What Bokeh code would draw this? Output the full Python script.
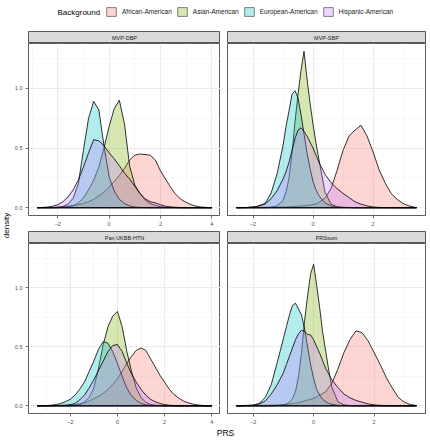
import math
from bokeh.plotting import figure
from bokeh.layouts import row, column
from bokeh.models import Range1d, FixedTicker, PrintfTickFormatter, Label, Legend, LegendItem
from bokeh.embed import file_html
from bokeh.resources import INLINE

FONT = "Liberation Sans"

groups = ["African-American", "Asian-American", "European-American", "Hispanic-American"]
colors = ["#F8766D", "#7CAE00", "#00BFC4", "#C77CFF"]
panel_names = ["MVP-DBP", "MVP-SBP", "Pan UKBB-HTN", "PRSsum"]
x_ticks = [-2, 0, 2, 4]
x_minor = [-3, -1, 1, 3]
y_ticks = [0.0, 0.5, 1.0]
y_minor = [0.25, 0.75, 1.25]

# ---- MVP-DBP ----
dbp_x = [-2.8, -2.6, -2.4, -2.2, -2.0, -1.8, -1.6, -1.4, -1.2, -1.0, -0.8, -0.6, -0.4, -0.2, 0.0,
         0.2, 0.4, 0.6, 0.8, 1.0, 1.2, 1.4, 1.6, 1.8, 2.0, 2.2, 2.4, 2.6, 2.8, 3.0, 3.2, 3.4, 3.6, 3.8, 4.0]
dbp_african = [0.0, 0.001, 0.002, 0.003, 0.005, 0.008, 0.012, 0.018, 0.025, 0.035, 0.05, 0.07, 0.10, 0.13, 0.17,
               0.22, 0.27, 0.33, 0.40, 0.44, 0.45, 0.445, 0.44, 0.40, 0.31, 0.24, 0.17, 0.11, 0.07, 0.045, 0.025, 0.012, 0.005, 0.002, 0.0]
dbp_asian = [0, 0, 0, 0, 0, 0.002, 0.006, 0.015, 0.04, 0.08, 0.15, 0.23, 0.34, 0.50, 0.68,
             0.83, 0.90, 0.70, 0.35, 0.19, 0.12, 0.065, 0.035, 0.018, 0.008, 0.004, 0.002, 0.001, 0, 0, 0, 0, 0, 0, 0]
dbp_european = [0, 0, 0, 0, 0.003, 0.01, 0.03, 0.08, 0.20, 0.48, 0.75, 0.89, 0.82, 0.52, 0.26,
                0.14, 0.07, 0.035, 0.015, 0.006, 0.002, 0.001, 0, 0, 0, 0, 0, 0, 0, 0, 0, 0, 0, 0, 0]
dbp_hispanic = [0.0, 0.002, 0.005, 0.012, 0.025, 0.05, 0.09, 0.15, 0.23, 0.34, 0.46, 0.57, 0.56, 0.52, 0.46,
                0.41, 0.35, 0.29, 0.24, 0.18, 0.12, 0.075, 0.05, 0.04, 0.025, 0.012, 0.006, 0.003, 0.001, 0, 0, 0, 0, 0, 0]

# ---- MVP-SBP ----
sbp_x = [-2.55, -2.2, -1.9, -1.6, -1.4, -1.2, -1.0, -0.9, -0.8, -0.7, -0.6, -0.5, -0.4, -0.3, -0.2, -0.1, 0.0,
         0.1, 0.2, 0.4, 0.6, 0.8, 1.0, 1.2, 1.4, 1.6, 1.8, 2.0, 2.2, 2.4, 2.6, 2.8, 3.0, 3.2, 3.45]
sbp_african = [0, 0.001, 0.002, 0.003, 0.004, 0.004, 0.005, 0.006, 0.007, 0.008, 0.01, 0.012, 0.014, 0.016, 0.019, 0.022, 0.026,
               0.032, 0.045, 0.08, 0.16, 0.31, 0.48, 0.60, 0.65, 0.69, 0.60, 0.47, 0.32, 0.21, 0.12, 0.07, 0.035, 0.015, 0.0]
sbp_asian = [0, 0, 0, 0, 0.003, 0.015, 0.06, 0.13, 0.25, 0.45, 0.72, 0.95, 1.15, 1.31, 1.08, 0.88, 0.70,
             0.54, 0.40, 0.13, 0.03, 0.008, 0.003, 0.001, 0, 0, 0, 0, 0, 0, 0, 0, 0, 0, 0]
sbp_european = [0, 0.001, 0.008, 0.035, 0.12, 0.28, 0.52, 0.68, 0.81, 0.95, 0.98, 0.92, 0.78, 0.62, 0.46, 0.33, 0.22,
                0.15, 0.10, 0.04, 0.015, 0.005, 0.002, 0.001, 0, 0, 0, 0, 0, 0, 0, 0, 0, 0, 0]
sbp_hispanic = [0, 0.002, 0.008, 0.03, 0.075, 0.14, 0.24, 0.30, 0.38, 0.48, 0.58, 0.65, 0.67, 0.64, 0.60, 0.55, 0.50,
                0.44, 0.38, 0.28, 0.21, 0.16, 0.12, 0.085, 0.05, 0.03, 0.015, 0.006, 0.002, 0.001, 0, 0, 0, 0, 0]

# ---- Pan UKBB-HTN ----
htn_x = [-3.4, -3.2, -3.0, -2.8, -2.6, -2.4, -2.2, -2.0, -1.8, -1.6, -1.4, -1.2, -1.0, -0.8, -0.6, -0.4, -0.2, 0.0, 0.2,
         0.4, 0.6, 0.8, 1.0, 1.2, 1.4, 1.6, 1.8, 2.0, 2.2, 2.4, 2.6, 2.8, 3.0, 3.2, 3.4, 3.6, 3.8, 4.0]
htn_african = [0, 0.0005, 0.001, 0.001, 0.002, 0.003, 0.004, 0.006, 0.01, 0.017, 0.025, 0.04, 0.06, 0.08, 0.105, 0.14, 0.18, 0.23, 0.29,
               0.36, 0.42, 0.47, 0.49, 0.47, 0.40, 0.33, 0.26, 0.20, 0.14, 0.095, 0.065, 0.04, 0.025, 0.014, 0.007, 0.003, 0.001, 0]
htn_asian = [0, 0, 0, 0, 0, 0, 0, 0, 0.003, 0.01, 0.03, 0.07, 0.15, 0.32, 0.52, 0.67, 0.76, 0.80, 0.67,
             0.46, 0.29, 0.15, 0.07, 0.03, 0.012, 0.005, 0.002, 0, 0, 0, 0, 0, 0, 0, 0, 0, 0, 0]
htn_european = [0, 0.001, 0.002, 0.005, 0.01, 0.02, 0.035, 0.055, 0.09, 0.14, 0.20, 0.29, 0.38, 0.48, 0.545, 0.53, 0.46, 0.36, 0.25,
                0.15, 0.085, 0.045, 0.02, 0.008, 0.003, 0.001, 0, 0, 0, 0, 0, 0, 0, 0, 0, 0, 0, 0]
htn_hispanic = [0, 0, 0, 0.001, 0.002, 0.003, 0.005, 0.009, 0.02, 0.05, 0.09, 0.15, 0.22, 0.30, 0.38, 0.46, 0.51, 0.52, 0.46,
                0.36, 0.27, 0.20, 0.14, 0.09, 0.055, 0.035, 0.02, 0.01, 0.005, 0.002, 0, 0, 0, 0, 0, 0, 0, 0]

# ---- PRSsum ----
sum_x = [-2.55, -2.3, -2.0, -1.8, -1.6, -1.4, -1.2, -1.0, -0.9, -0.8, -0.7, -0.6, -0.5, -0.4, -0.3, -0.2, -0.1, 0.0,
         0.1, 0.2, 0.3, 0.4, 0.5, 0.6, 0.8, 1.0, 1.2, 1.4, 1.6, 1.8, 2.0, 2.2, 2.4, 2.6, 2.8, 3.0, 3.2, 3.4]
sum_african = [0, 0.001, 0.002, 0.003, 0.004, 0.005, 0.006, 0.009, 0.011, 0.014, 0.018, 0.022, 0.027, 0.033, 0.04, 0.048, 0.055, 0.063,
               0.075, 0.09, 0.105, 0.12, 0.155, 0.19, 0.31, 0.45, 0.56, 0.635, 0.62, 0.55, 0.45, 0.35, 0.24, 0.15, 0.07, 0.03, 0.01, 0.002]
sum_asian = [0, 0, 0, 0, 0, 0, 0.002, 0.008, 0.015, 0.03, 0.06, 0.12, 0.25, 0.45, 0.72, 0.93, 1.12, 1.20,
             1.02, 0.83, 0.62, 0.46, 0.30, 0.16, 0.035, 0.008, 0.002, 0, 0, 0, 0, 0, 0, 0, 0, 0, 0, 0]
sum_european = [0, 0.001, 0.004, 0.02, 0.07, 0.18, 0.37, 0.57, 0.67, 0.77, 0.85, 0.87, 0.82, 0.77, 0.65, 0.50, 0.35, 0.23,
                0.14, 0.09, 0.055, 0.035, 0.02, 0.012, 0.004, 0.001, 0, 0, 0, 0, 0, 0, 0, 0, 0, 0, 0, 0]
sum_hispanic = [0, 0.002, 0.006, 0.015, 0.04, 0.10, 0.18, 0.28, 0.35, 0.42, 0.49, 0.56, 0.61, 0.64, 0.63, 0.605, 0.60, 0.56,
                0.50, 0.445, 0.38, 0.315, 0.27, 0.22, 0.155, 0.10, 0.068, 0.045, 0.03, 0.016, 0.008, 0.004, 0.002, 0, 0, 0, 0, 0]

panel_data = [
    (dbp_x, [dbp_african, dbp_asian, dbp_european, dbp_hispanic]),
    (sbp_x, [sbp_african, sbp_asian, sbp_european, sbp_hispanic]),
    (htn_x, [htn_african, htn_asian, htn_european, htn_hispanic]),
    (sum_x, [sum_african, sum_asian, sum_european, sum_hispanic]),
]

# layout sizes (px)
W_YLAB = 11
L_LEFT, FW_LEFT, R_LEFT = 14, 195, 0
L_RIGHT, FW_RIGHT, R_RIGHT = 7, 198, 3
W_LEFT = L_LEFT + FW_LEFT + R_LEFT
W_RIGHT = L_RIGHT + FW_RIGHT + R_RIGHT
TOTAL_W = W_YLAB + W_LEFT + W_RIGHT
ORIGIN = W_YLAB + L_LEFT          # page x where the panel frames begin
FH = 172
H_LEG = 24
TOP_GAP = 7
H_S1 = TOP_GAP + 12
B_P1 = 16
H_P1 = FH + B_P1
H_S3 = 12
B_P3 = 11
H_P3 = FH + B_P3
H_XLAB = 12

y_max = max(max(d) for _, ds in panel_data for d in ds)
yr = Range1d(-0.05 * y_max, 1.05 * y_max)


def base_fig(**kw):
    p = figure(toolbar_location=None, output_backend="svg", **kw)
    p.background_fill_color = "white"
    p.border_fill_color = "white"
    return p


def side_borders(left):
    if left:
        return dict(min_border_left=L_LEFT, min_border_right=R_LEFT)
    return dict(min_border_left=L_RIGHT, min_border_right=R_RIGHT)


def make_strip(name, left, height, top):
    s = base_fig(width=W_LEFT if left else W_RIGHT, height=height,
                 x_range=Range1d(0, 1), y_range=Range1d(0, 1),
                 x_axis_location=None, y_axis_location=None,
                 min_border_top=top, min_border_bottom=0, **side_borders(left))
    s.grid.visible = False
    s.background_fill_color = "#D9D9D9"
    s.outline_line_color = "#333333"
    s.outline_line_width = 0.8
    s.add_layout(Label(x=0.5, y=0.5, text=name, text_align="center", text_baseline="middle",
                       text_font=FONT, text_font_size="5.5px", text_color="#1A1A1A"))
    return s


def make_panel(idx, left, height, bottom_border):
    xs, ds = panel_data[idx]
    lo, hi = min(xs), max(xs)
    w = hi - lo
    p = base_fig(width=W_LEFT if left else W_RIGHT, height=height,
                 x_range=Range1d(lo - 0.05 * w, hi + 0.05 * w), y_range=yr,
                 y_axis_location="left" if left else None,
                 min_border_top=0, min_border_bottom=bottom_border, **side_borders(left))
    p.outline_line_color = "#333333"
    p.outline_line_width = 0.8
    for d, c in zip(ds, colors):
        p.patch(xs, d, fill_color=c, fill_alpha=0.3, line_color="black", line_width=0.8)
    xt = FixedTicker(ticks=x_ticks, minor_ticks=x_minor)
    yt = FixedTicker(ticks=y_ticks, minor_ticks=y_minor)
    p.xaxis.ticker = xt
    p.xgrid.ticker = xt
    p.ygrid.ticker = yt
    for g in (p.xgrid, p.ygrid):
        g.grid_line_color = "#EBEBEB"
        g.grid_line_width = 1.0
        g.minor_grid_line_color = "#F2F2F2"
        g.minor_grid_line_width = 0.6
    axes = [p.xaxis[0]]
    if left:
        p.yaxis.ticker = yt
        p.yaxis.formatter = PrintfTickFormatter(format="%.1f")
        axes.append(p.yaxis[0])
    for a in axes:
        a.axis_line_color = None
        a.major_tick_line_color = "#333333"
        a.major_tick_line_width = 0.7
        a.major_tick_out = 3
        a.major_tick_in = 0
        a.minor_tick_line_color = None
        a.major_label_text_font = FONT
        a.major_label_text_font_size = "5.5px"
        a.major_label_text_color = "#4D4D4D"
        a.major_label_standoff = 2
    return p


s1 = make_strip(panel_names[0], True, H_S1, TOP_GAP)
s2 = make_strip(panel_names[1], False, H_S1, TOP_GAP)
s3 = make_strip(panel_names[2], True, H_S3, 0)
s4 = make_strip(panel_names[3], False, H_S3, 0)
p1 = make_panel(0, True, H_P1, B_P1)
p2 = make_panel(1, False, H_P1, B_P1)
p3 = make_panel(2, True, H_P3, B_P3)
p4 = make_panel(3, False, H_P3, B_P3)

# legend row: its frame is aligned with the panel frames, so positions are page x minus ORIGIN
LEG_FRAME_W = TOTAL_W - ORIGIN - R_RIGHT
lf = base_fig(width=TOTAL_W, height=H_LEG, x_range=Range1d(0, LEG_FRAME_W), y_range=Range1d(0, H_LEG),
              x_axis_location=None, y_axis_location=None,
              min_border_left=ORIGIN, min_border_right=R_RIGHT, min_border_top=0, min_border_bottom=0)
lf.grid.visible = False
lf.outline_line_color = None
items = []
for g, c in zip(groups, colors):
    r = lf.patch(x=[float("nan")], y=[float("nan")], fill_color=c, fill_alpha=0.3,
                 line_color="#333333", line_width=0.6)
    items.append(LegendItem(label=g, renderers=[r]))
lf.add_layout(Label(x=57 - ORIGIN, y=H_LEG - 11.5, text="Background", text_align="left", text_baseline="middle",
                    text_font=FONT, text_font_size="8px", text_color="#000000"))
leg = Legend(items=items, orientation="horizontal", location=(105 - ORIGIN, 7),
             label_text_font=FONT, label_text_font_size="6.5px", label_text_color="#1A1A1A",
             glyph_width=12, glyph_height=11, label_height=11, label_standoff=5, spacing=4,
             padding=0, margin=0, border_line_color=None, background_fill_alpha=0)
lf.add_layout(leg)

# y axis title
yl = base_fig(width=W_YLAB, height=H_S1 + H_P1 + H_S3 + H_P3, x_range=Range1d(0, 1), y_range=Range1d(0, 1),
              x_axis_location=None, y_axis_location=None,
              min_border_left=0, min_border_right=0, min_border_top=0, min_border_bottom=0)
yl.grid.visible = False
yl.outline_line_color = None
yl.add_layout(Label(x=0.5, y=0.5, text="density", angle=math.pi / 2, text_align="center",
                    text_baseline="middle", text_font=FONT, text_font_size="8px", text_color="#000000"))

# x axis title
xl = base_fig(width=TOTAL_W, height=H_XLAB, x_range=Range1d(0, 1), y_range=Range1d(0, 1),
              x_axis_location=None, y_axis_location=None,
              min_border_left=ORIGIN, min_border_right=R_RIGHT, min_border_top=0, min_border_bottom=0)
xl.grid.visible = False
xl.outline_line_color = None
xl.add_layout(Label(x=0.5, y=0.5, text="PRS", text_align="center", text_baseline="middle",
                    text_font=FONT, text_font_size="8.5px", text_color="#000000"))

layout = column(lf, row(yl, column(s1, p1, s3, p3), column(s2, p2, s4, p4)), xl)

open("out.html", "w").write(file_html(layout, INLINE))
